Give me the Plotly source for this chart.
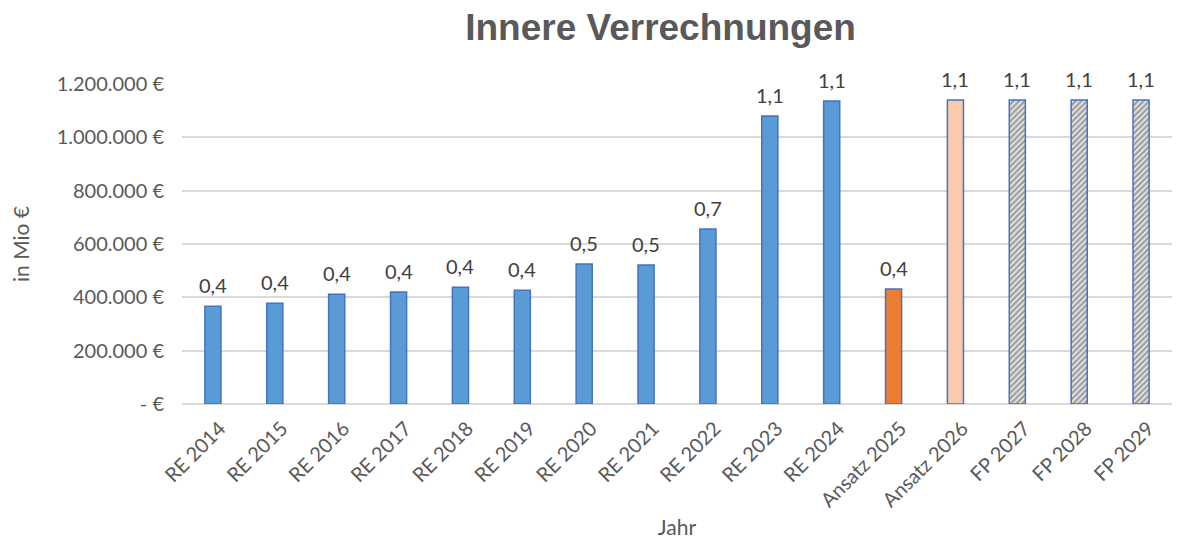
import plotly.graph_objects as go

categories = ["RE 2014", "RE 2015", "RE 2016", "RE 2017", "RE 2018", "RE 2019", "RE 2020",
              "RE 2021", "RE 2022", "RE 2023", "RE 2024", "Ansatz 2025", "Ansatz 2026",
              "FP 2027", "FP 2028", "FP 2029"]
values = [367000, 378000, 412000, 420000, 438000, 427000, 525000, 521000, 656000,
          1080000, 1136000, 431000, 1140000, 1140000, 1140000, 1140000]
tick_vals = [0, 200000, 400000, 600000, 800000, 1000000, 1200000]
tick_text = ["- €", "200.000 €", "400.000 €", "600.000 €", "800.000 €", "1.000.000 €", "1.200.000 €"]

fills = ["#5B9BD5"] * 11 + ["#ED7D31", "#F8CBAD", "white", "white", "white"]
shapes = [""] * 13 + ["/", "/", "/"]
labels = [f"{v/1e6:.1f}".replace(".", ",") for v in values]

fig = go.Figure(go.Bar(
    x=categories, y=values,
    width=0.26,
    marker=dict(color=fills, line=dict(color="#4472C4", width=1.5),
                pattern=dict(shape=shapes, fgcolor="black", bgcolor="white", size=4, solidity=0.7)),
))

for c, v, t in zip(categories, values, labels):
    fig.add_annotation(x=c, y=v, text=t, showarrow=False, yanchor="middle", yshift=21,
                       font=dict(size=20, color="#404040", family="Lato"))

fig.update_layout(
    width=1180, height=540,
    margin=dict(l=174, r=16, t=76, b=144),
    plot_bgcolor="white", paper_bgcolor="white",
    title=dict(text="<b>Innere Verrechnungen</b>", x=0.553, xanchor="center", y=0.965, yanchor="middle",
               font=dict(size=37, color="#595959", family="Liberation Sans")),
    font=dict(family="Lato", color="#595959"),
    showlegend=False,
)
fig.update_xaxes(tickangle=-45, tickfont=dict(size=20, color="#595959"), automargin=False,
                 ticklabelshift=7, ticklabelstandoff=8,
                 title=dict(text="Jahr", font=dict(size=21, color="#595959"), standoff=10),
                 showline=False, ticks="")
fig.update_yaxes(range=[0, 1200000], tickvals=tick_vals, ticktext=tick_text, automargin=False,
                 tickfont=dict(size=20, color="#595959"),
                 gridcolor="#D9D9D9", gridwidth=1.5, zeroline=True, zerolinecolor="#D9D9D9",
                 zerolinewidth=1.5, ticklabelstandoff=17,
                 title=dict(text="in Mio €", font=dict(size=21, color="#595959"), standoff=22))

fig.write_html("out.html")
